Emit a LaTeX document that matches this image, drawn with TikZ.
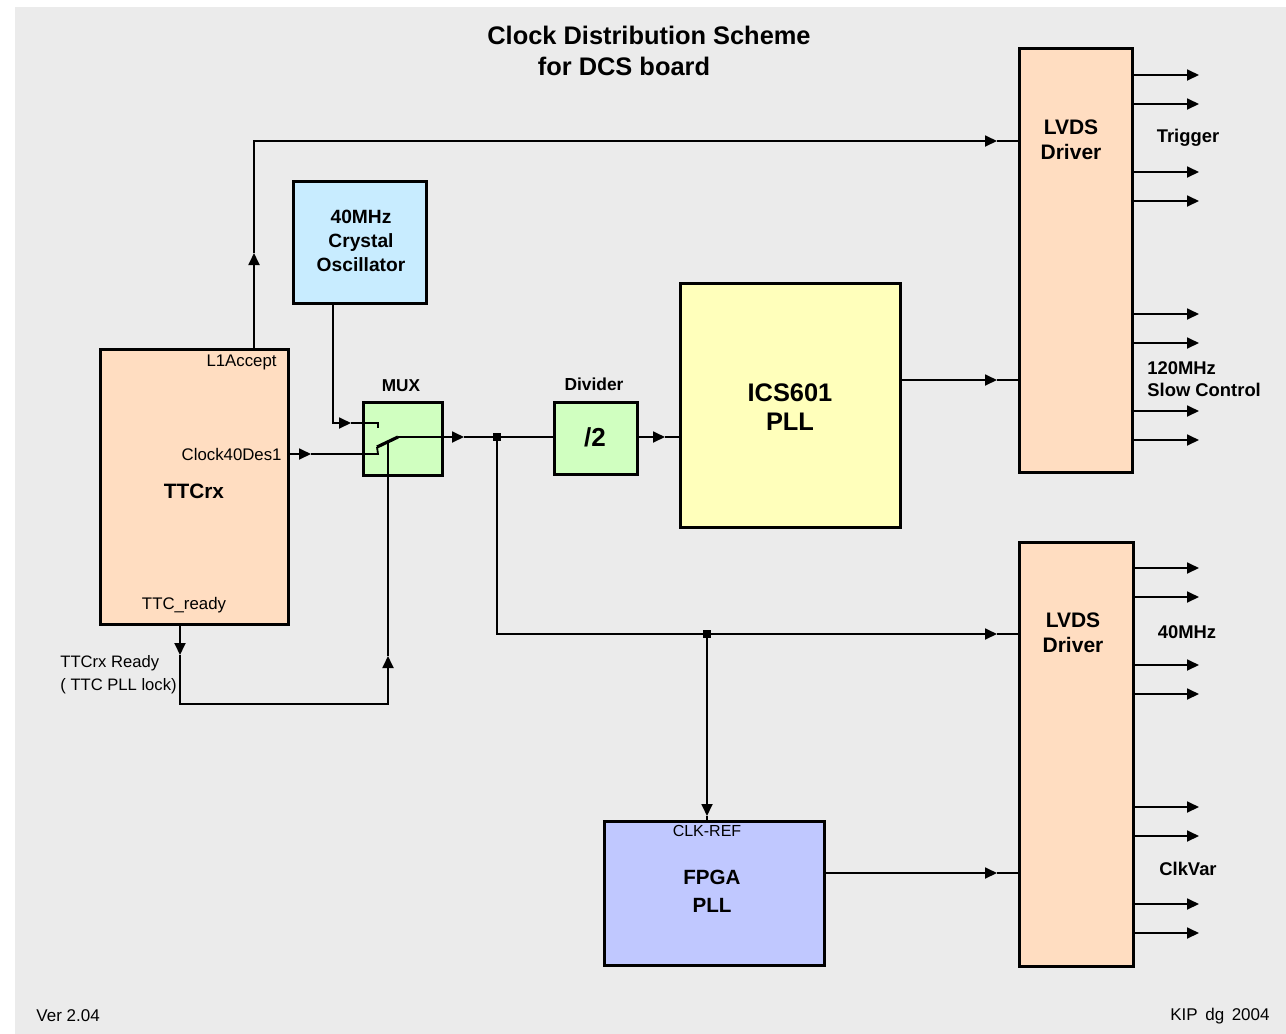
\documentclass[tikz,border=0pt]{standalone}
\usepackage{fontspec}
\setmainfont{Liberation Sans}
\usetikzlibrary{arrows.meta}
\definecolor{bggrey}{HTML}{EBEBEB}
\definecolor{peach}{HTML}{FFDDC1}
\definecolor{skyb}{HTML}{C8ECFF}
\definecolor{lgreen}{HTML}{D0FFC0}
\definecolor{lyellow}{HTML}{FFFFBB}
\definecolor{lblue}{HTML}{C0C8FF}
\newcommand{\fs}[2]{\fontsize{#1}{#2}\selectfont}
\tikzset{
  box/.style={draw=black, line width=1.5pt, inner sep=0pt, anchor=north west},
  wire/.style={line width=0.9pt, black},
  arr/.style={wire, -{Triangle[length=6pt,width=5.5pt]}},
  blade/.style={line width=1.6pt, black},
  dotnode/.style={fill=black, inner sep=0pt, minimum size=3.6pt, draw=none},
  btxt/.style={font=\bfseries, inner sep=0pt, align=center},
  rtxt/.style={inner sep=0pt, align=center},
}
\begin{document}
\begin{tikzpicture}[x=0.5pt,y=-0.5pt]
\useasboundingbox (0,0) rectangle (1286,1034);
\fill[white] (0,0) rectangle (1286,1034);
\fill[bggrey] (15,7) rectangle (1286,1034);

% title
\node[btxt, font=\bfseries\fs{12.7}{15}] (title1) at (649,35) {Clock Distribution Scheme};
\node[btxt, font=\bfseries\fs{12.7}{15}] (title2) at (624,66) {for DCS board};

% boxes
\node[box, fill=peach, minimum width=94pt, minimum height=137.5pt] (ttc) at (98.5,347.5) {};
\node[box, fill=skyb, minimum width=66.5pt, minimum height=61pt] (osc) at (291.5,179.5) {};
\node[box, fill=lgreen, minimum width=39.5pt, minimum height=36.5pt] (mux) at (361.5,400.5) {};
\node[box, fill=lgreen, minimum width=41.5pt, minimum height=36pt] (div) at (552.5,400.5) {};
\node[box, fill=lyellow, minimum width=110pt, minimum height=122pt] (ics) at (678.5,281.5) {};
\node[box, fill=peach, minimum width=56.5pt, minimum height=212pt] (lvdsA) at (1017.5,46.5) {};
\node[box, fill=peach, minimum width=57pt, minimum height=212pt] (lvdsB) at (1017.5,540.5) {};
\node[box, fill=lblue, minimum width=110pt, minimum height=72pt] (fpga) at (602.5,819.5) {};

% box texts
\node[rtxt, font=\fs{8.4}{10}, anchor=east] (l1txt) at (277,362) {L1Accept};
\node[rtxt, font=\fs{8.4}{10}, anchor=east] (ctxt) at (282,454) {Clock40Des1};
\node[btxt, font=\bfseries\fs{10.4}{12}] (ttctxt) at (194,491) {TTCrx};
\node[rtxt, font=\fs{8.4}{10}] (rdytxt) at (184,605) {TTC\_ready};
\node[btxt, font=\bfseries\fs{9.6}{12}] (osctxt) at (361,241) {40MHz\\Crystal\\Oscillator};
\node[btxt, font=\bfseries\fs{8.6}{10}] (muxtxt) at (401,386) {MUX};
\node[btxt, font=\bfseries\fs{8.7}{10}] (divtxt) at (594,384) {Divider};
\node[btxt, font=\bfseries\fs{13}{15}] (halftxt) at (595,437) {/2};
\node[btxt, font=\bfseries\fs{12.7}{14.5}] (icstxt) at (790,407) {ICS601\\PLL};
\node[btxt, font=\bfseries\fs{10.5}{12.5}] (lvdsAtxt) at (1071,140) {LVDS\\Driver};
\node[btxt, font=\bfseries\fs{10.5}{12.5}] (lvdsBtxt) at (1073,633) {LVDS\\Driver};
\node[rtxt, font=\fs{8}{10}] (clkref) at (707,831) {CLK-REF};
\node[btxt, font=\bfseries\fs{10.3}{14}] (fpgatxt) at (712,891) {FPGA\\PLL};

% outside labels
\node[rtxt, font=\fs{8.3}{11.5}, align=left, anchor=east] (rdylbl) at (177,675) {TTCrx Ready\\( TTC PLL lock)};
\node[btxt, font=\bfseries\fs{9.2}{11}] (trig) at (1188,138) {Trigger};
\node[btxt, font=\bfseries\fs{9.2}{11}, align=left, anchor=west] (slow) at (1147,379) {120MHz\\Slow Control};
\node[btxt, font=\bfseries\fs{9.2}{11}] (m40) at (1187,632) {40MHz};
\node[btxt, font=\bfseries\fs{9.2}{11}] (clkvar) at (1188,869) {ClkVar};
\node[rtxt, font=\fs{8.5}{10}, anchor=west] (ver) at (36,1016) {Ver 2.04};
\node[rtxt, font=\fs{8.5}{10}, anchor=east] (kip) at (1270,1016) {KIP\, dg\, 2004};

% coordinates
\coordinate (l1a) at (254,253);
\coordinate (l1b) at (997,141);
\coordinate (osca) at (333,423);
\coordinate (oscb) at (351,423);
\coordinate (oscc) at (378,423);
\coordinate (oscd) at (378,428);
\coordinate (cka) at (311,454);
\coordinate (ckb) at (378,454);
\coordinate (ckc) at (377,447);
\coordinate (bl) at (398,437);
\coordinate (outa) at (464,437);
\node[dotnode] (j1) at (497,437) {};
\coordinate (diva) at (665,437);
\coordinate (icsa) at (997,380);
\coordinate (lowa) at (497,634);
\node[dotnode] (j2) at (707,634) {};
\coordinate (lowb) at (997,634);
\coordinate (fpa) at (707,816);
\coordinate (fpb) at (997,873);
\coordinate (rda) at (180,655);
\coordinate (rdb) at (180,704);
\coordinate (rdc) at (388,656);
\coordinate (rdd) at (388,443);

% L1Accept
\draw[arr] (ttc.north -| l1a) -- (l1a);
\draw[arr] (l1a) |- (l1b);
\draw[wire] (l1b) -- (lvdsA.west |- l1b);
% oscillator to mux
\draw[arr] (osc.south -| osca) -- (osca) -- (oscb);
\draw[wire] (oscb) -- (oscc) -- (oscd);
% clock40des1 to mux
\draw[arr] (ttc.east |- cka) -- (cka);
\draw[wire] (cka) -- (ckb) -- (ckc);
% switch blade
\draw[blade] (ckc) -- (bl);
% mux output
\draw[arr] (bl) -- (outa);
\draw[wire] (outa) -- (j1);
\draw[wire] (j1) -- (div.west |- j1);
% divider to ICS
\draw[arr] (div.east |- diva) -- (diva);
\draw[wire] (diva) -- (ics.west |- diva);
% ICS to LVDS
\draw[arr] (ics.east |- icsa) -- (icsa);
\draw[wire] (icsa) -- (lvdsA.west |- icsa);
% 40 MHz branch
\draw[wire] (j1) -- (lowa) -- (j2);
\draw[arr] (j2) -- (lowb);
\draw[wire] (lowb) -- (lvdsB.west |- lowb);
\draw[arr] (j2) -- (fpa);
\draw[wire] (fpa) -- (fpga.north -| fpa);
% FPGA to LVDS
\draw[arr] (fpga.east |- fpb) -- (fpb);
\draw[wire] (fpb) -- (lvdsB.west |- fpb);
% TTC ready
\draw[arr] (ttc.south -| rda) -- (rda);
\draw[arr] (rda) -- (rdb) -| (rdc);
\draw[wire] (rdc) -- (rdd);

% outputs
\foreach \y [count=\i] in {75,104,172,201,314,343,411,440}{
  \coordinate (oa\i) at (1199,\y);
  \draw[arr] (lvdsA.east |- oa\i) -- (oa\i);
}
\foreach \y [count=\i] in {568,597,665,694,807,836,904,933}{
  \coordinate (ob\i) at (1199,\y);
  \draw[arr] (lvdsB.east |- ob\i) -- (ob\i);
}
\end{tikzpicture}
\end{document}
